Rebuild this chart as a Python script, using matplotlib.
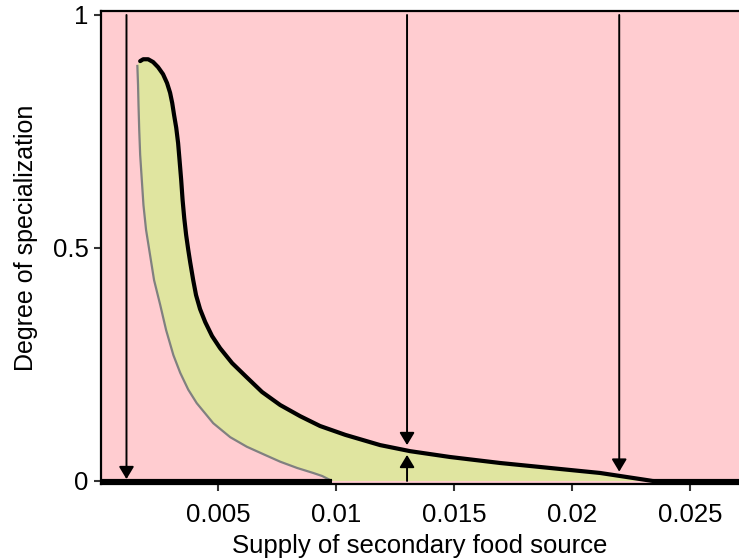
import matplotlib
matplotlib.use("Agg")
import matplotlib.pyplot as plt

plt.rcParams['font.family'] = ['Liberation Sans', 'DejaVu Sans']

# Upper stable branch (thick black curve)
upper_x = [0.00168, 0.00181, 0.00202, 0.00223, 0.00244, 0.00265, 0.00282,
           0.00295, 0.00304, 0.00312, 0.00321, 0.00329, 0.00335, 0.00342,
           0.00348, 0.00355, 0.00363, 0.00372, 0.00380, 0.00393, 0.00405,
           0.00422, 0.00444, 0.00473, 0.00507, 0.00558, 0.00617, 0.00685,
           0.00762, 0.00847, 0.00931, 0.01038, 0.01186, 0.01313, 0.01482,
           0.01695, 0.01907, 0.02119, 0.02343]
upper_y = [0.901, 0.905, 0.905, 0.899, 0.888, 0.873, 0.854,
           0.833, 0.811, 0.785, 0.758, 0.725, 0.689, 0.646,
           0.603, 0.564, 0.528, 0.496, 0.470, 0.431, 0.399,
           0.369, 0.341, 0.311, 0.285, 0.253, 0.224, 0.191,
           0.163, 0.139, 0.118, 0.099, 0.077, 0.064, 0.0515,
           0.0386, 0.0279, 0.0172, 0.0]

# Unstable branch (thin grey curve)
lower_x = [0.00156, 0.00159, 0.00161, 0.00164, 0.00168, 0.00175, 0.00182,
           0.00193, 0.00210, 0.00227, 0.00253, 0.00278, 0.00309, 0.00338,
           0.00372, 0.00408, 0.00478, 0.00550, 0.00620, 0.00698, 0.00762,
           0.00834, 0.00902, 0.00940, 0.00982]
lower_y = [0.893, 0.850, 0.807, 0.754, 0.700, 0.646, 0.592,
           0.539, 0.485, 0.431, 0.378, 0.324, 0.270, 0.232,
           0.196, 0.167, 0.124, 0.094, 0.0736, 0.0558, 0.0414,
           0.0279, 0.0172, 0.0107, 0.0]

# Stable generalist equilibrium at zero specialization
zero_left = [0.0, 0.00982]
zero_right = [0.02343, 0.0271]

# Arrows: (x, start y, end y)
arrow_x = [0.0011, 0.013, 0.013, 0.022]
arrow_y0 = [1.0, 1.0, 0.0, 1.0]
arrow_y1 = [0.004, 0.077, 0.056, 0.020]

xticks = [0.005, 0.01, 0.015, 0.02, 0.025]
xtick_labels = ["0.005", "0.01", "0.015", "0.02", "0.025"]
yticks = [0, 0.5, 1]
ytick_labels = ["0", "0.5", "1"]

pink = "#FFCCD0"
green = "#E0E5A0"

fig = plt.figure(figsize=(7.39, 5.60), dpi=100)
ax = fig.add_axes([0.1367, 0.1366, 0.8633, 0.8438])
ax.set_facecolor(pink)

# Region between the two branches
fill_x = upper_x + lower_x[::-1]
fill_y = upper_y + lower_y[::-1]
ax.fill(fill_x, fill_y, color=green, lw=0, zorder=1)

ax.plot(lower_x, lower_y, color="#808080", lw=1.6, zorder=2,
        solid_capstyle="butt", solid_joinstyle="round")
ax.plot(upper_x, upper_y, color="black", lw=3.0, zorder=3,
        solid_capstyle="round", solid_joinstyle="round")
ax.plot(zero_left, [0, 0], color="black", lw=3.0, zorder=3,
        solid_capstyle="butt")
ax.plot(zero_right, [0, 0], color="black", lw=3.0, zorder=3,
        solid_capstyle="butt")

for x, y0, y1 in zip(arrow_x, arrow_y0, arrow_y1):
    ax.annotate("", xy=(x, y1), xytext=(x, y0),
                arrowprops=dict(arrowstyle="-|>,head_length=0.75,head_width=0.45",
                                mutation_scale=10, color="black", lw=1.4,
                                shrinkA=0, shrinkB=0),
                zorder=4)

ax.set_xlim(0.00002, 0.02708)
ax.set_ylim(-0.0054, 1.0086)

ax.set_xticks(xticks)
ax.set_xticklabels(xtick_labels)
ax.set_yticks(yticks)
ax.set_yticklabels(ytick_labels)
ax.tick_params(axis="both", labelsize=18.5, length=5, width=1.5,
               color="#333333")
ax.tick_params(axis="x", pad=9)
ax.tick_params(axis="y", pad=4)

for side in ("left", "top", "bottom"):
    ax.spines[side].set_linewidth(1.6)
ax.spines["right"].set_visible(False)

ax.set_xlabel("Supply of secondary food source", fontsize=18.5, labelpad=5)
ax.set_ylabel("Degree of specialization", fontsize=18)
ax.yaxis.set_label_coords(-0.098, 0.519)

fig.savefig("out.png", dpi=100)
